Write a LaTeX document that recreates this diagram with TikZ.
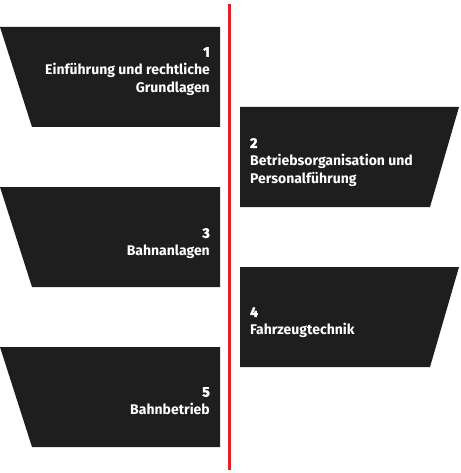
\documentclass[tikz,border=0pt]{standalone}
\usepackage{fontspec}
\setmainfont{Fira Sans}
\newfontfamily\numfont[FakeBold=2.5]{Fira Sans}
\usepackage{tikz}
\definecolor{boxdark}{RGB}{30,30,30}
\definecolor{linered}{RGB}{226,30,40}

\begin{document}
\begin{tikzpicture}[x=1pt,y=-1pt,
  leftbox/.style={fill=boxdark},
  rightbox/.style={fill=boxdark},
  lefttext/.style={anchor=north east,align=right,text=white,font=\bfseries\fontsize{14}{18}\selectfont,inner sep=0pt},
  righttext/.style={anchor=north west,align=left,text=white,font=\bfseries\fontsize{14}{18}\selectfont,inner sep=0pt}]

\useasboundingbox (0,0) rectangle (460,473);

\fill[leftbox] (0,27) -- (220,27) -- (220,127) -- (32,127) -- cycle;
\fill[rightbox] (240,107) -- (459,107) -- (430,207) -- (240,207) -- cycle;
\fill[leftbox] (0,187) -- (220,187) -- (220,287) -- (32,287) -- cycle;
\fill[rightbox] (240,267) -- (459,267) -- (430,367) -- (240,367) -- cycle;
\fill[leftbox] (0,347) -- (220,347) -- (220,447) -- (32,447) -- cycle;

\draw[linered,line width=3pt] (229.5,4) -- (229.5,470);

\node[lefttext] (m1) at (210,47) {{\numfont 1}\\Einführung und rechtliche\\Grundlagen};
\node[righttext] (m2) at (250,138) {{\numfont 2}\\Betriebsorganisation und\\Personalführung};
\node[lefttext] (m3) at (210,228) {{\numfont 3}\\Bahnanlagen};
\node[righttext] (m4) at (250,307) {{\numfont 4}\\Fahrzeugtechnik};
\node[lefttext] (m5) at (210,387) {{\numfont 5}\\Bahnbetrieb};

\end{tikzpicture}
\end{document}
